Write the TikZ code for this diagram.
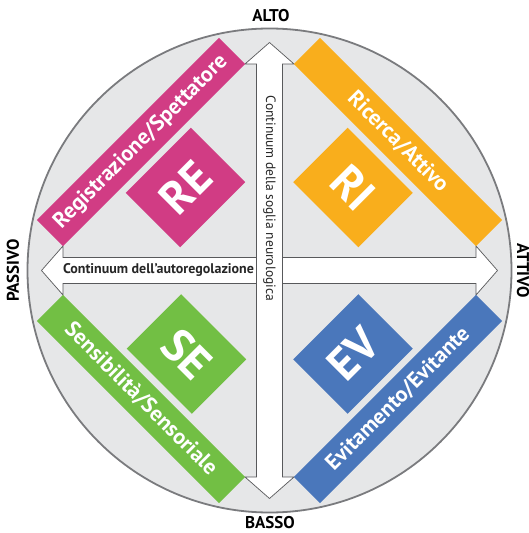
\documentclass[tikz,border=0pt]{standalone}
\usepackage{fontspec}
\setmainfont{PT Sans}
\definecolor{diskgray}{HTML}{E6E7E8}
\definecolor{rimgray}{HTML}{7A7B7E}
\definecolor{arrowgray}{HTML}{58595B}
\definecolor{regcol}{HTML}{D13C84}
\definecolor{riccol}{HTML}{F9AE1C}
\definecolor{sencol}{HTML}{72BF44}
\definecolor{evicol}{HTML}{4A77BB}
\begin{document}
\begin{tikzpicture}[x=1pt,y=1pt,
  band/.style={inner sep=0pt, minimum height=37pt, minimum width=257.4pt, text=white,
    font=\fontsize{22}{22}\selectfont\bfseries},
  bigbox/.style={inner sep=0pt, minimum width=92pt, minimum height=77pt, text=white,
    font=\fontsize{46}{46}\selectfont\bfseries},
  axislabel/.style={font=\fontsize{17}{17}\selectfont\bfseries, text=black, inner sep=0pt},
  arrowshape/.style={draw=arrowgray, line width=0.7pt, fill=white, line join=miter},
  contlabel/.style={inner sep=0pt, text=black!85}
]
\useasboundingbox (-269.5,-262.5) rectangle (259.5,270.5);
% disk
\fill[diskgray] (0,0) circle (242);
\draw[rimgray, line width=1.8pt] (0,0) circle (242);
% horizontal double arrow
\draw[arrowshape] (-228,0) -- (-206.5,24.5) -- (-206.5,13) -- (206.5,13) -- (206.5,24.5)
  -- (228,0) -- (206.5,-24.5) -- (206.5,-13) -- (-206.5,-13) -- (-206.5,-24.5) -- cycle;
% vertical double arrow
\draw[arrowshape] (0,228) -- (24.5,206.5) -- (13,206.5) -- (13,-206.5) -- (24.5,-206.5)
  -- (0,-228) -- (-24.5,-206.5) -- (-13,-206.5) -- (-13,206.5) -- (-24.5,206.5) -- cycle;
% axis texts
\node[contlabel, font=\fontsize{14}{14}\selectfont\bfseries] (hcont) at (-111,0.5) {Continuum dell'autoregolazione};
\node[contlabel, rotate=-90, font=\fontsize{13.5}{13.5}\selectfont] (vcont) at (0,72) {Continuum della soglia neurologica};
% bands
\node[band, fill=regcol, rotate=45] (reg) at (-128.5,128.5) {Registrazione/Spettatore};
\node[band, fill=riccol, rotate=-45] (ric) at (128.5,128.5) {Ricerca/Attivo};
\node[band, fill=sencol, rotate=-45] (sen) at (-128.5,-128.5) {Sensibilità/Sensoriale};
\node[band, fill=evicol, rotate=45] (evi) at (128.5,-128.5) {Evitamento/Evitante};
% big boxes
\node[bigbox, fill=regcol, rotate=45] (re) at (-84,83) {RE};
\node[bigbox, fill=riccol, rotate=-45] (ri) at (83.5,83) {RI};
\node[bigbox, fill=sencol, rotate=-45] (se) at (-83,-83.5) {SE};
\node[bigbox, fill=evicol, rotate=45] (ev) at (83.5,-83.5) {EV};
% outer labels
\node[axislabel] (alto) at (1.5,254.5) {ALTO};
\node[axislabel] (basso) at (0.5,-252.5) {BASSO};
\node[axislabel, rotate=90] (passivo) at (-256.5,0) {PASSIVO};
\node[axislabel, rotate=-90] (attivo) at (253.5,0) {ATTIVO};
\end{tikzpicture}
\end{document}
